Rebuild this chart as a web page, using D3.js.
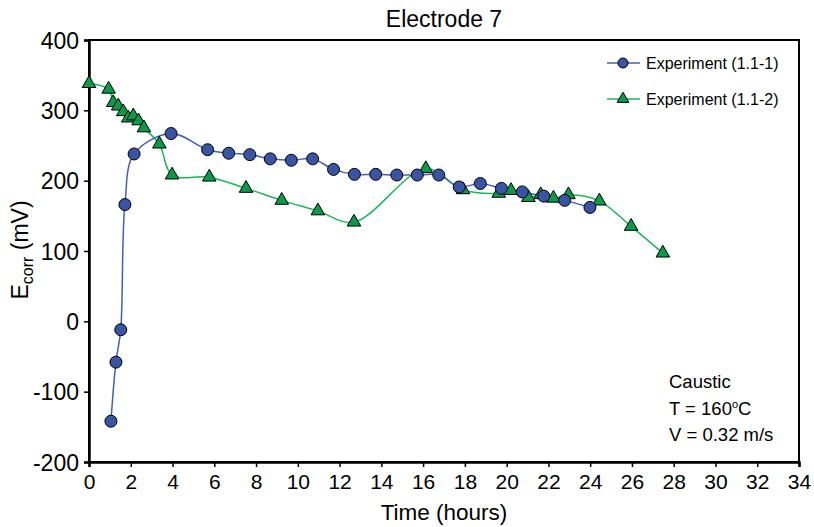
<!DOCTYPE html>
<html>
<head>
<meta charset="utf-8">
<script src="https://cdn.jsdelivr.net/npm/d3@7"></script>
<style>
  body { margin: 0; background: #fff; }
  text { font-family: "Liberation Sans", Arial, sans-serif; fill: #000; }
</style>
</head>
<body>
<svg id="viz"></svg>
<script>
var width = 814;
var height = 527;

// data
var exp1Time = [1.05, 1.29, 1.52, 1.72, 2.16, 3.93, 5.68, 6.69, 7.70, 8.68, 9.69, 10.71, 11.71, 12.71, 13.73, 14.74, 15.72, 16.75, 17.73, 18.74, 19.75, 20.75, 21.78, 22.78, 23.99];
var exp1Ecorr = [-142, -58, -12, 166, 238, 267, 244, 239, 237, 231, 229, 231, 216, 209, 209, 208, 208, 208, 191, 196, 189, 184, 178, 172, 162];

var exp2Time = [0, 0.94, 1.16, 1.40, 1.64, 1.88, 2.12, 2.37, 2.63, 3.37, 3.98, 5.76, 7.52, 9.23, 10.96, 12.69, 16.13, 17.91, 19.62, 20.21, 21.04, 21.63, 22.24, 22.96, 24.44, 25.96, 27.48];
var exp2Ecorr = [338, 330, 311, 306, 298, 289, 292, 285, 275, 252, 208, 205, 189, 172, 157, 141, 217, 187, 182, 186, 176, 180, 175, 180, 171, 135, 97];

var xTicks = d3.range(0, 35, 2);
var yTicks = [-200, -100, 0, 100, 200, 300, 400];
var seriesNames = ["Experiment (1.1-1)", "Experiment (1.1-2)"];

var margin = {left: 89, top: 40, right: 15, bottom: 65};
var plotW = width - margin.left - margin.right;
var plotH = height - margin.top - margin.bottom;

var svg = d3.select("#viz")
    .attr("width", width)
    .attr("height", height);

var x = d3.scaleLinear().domain([0, 34]).range([0, plotW]);
var y = d3.scaleLinear().domain([-200, 400]).range([plotH, 0]);

var g = svg.append("g")
    .attr("transform", "translate(" + margin.left + "," + margin.top + ")");

// frame
g.append("rect")
    .attr("x", 0).attr("y", 0)
    .attr("width", plotW).attr("height", plotH)
    .attr("fill", "none")
    .attr("stroke", "#000")
    .attr("stroke-width", 2);

// axes (plain hyphen for negatives, like the original)
var plain = function(d) { return String(d); };
var xAxis = g.append("g")
    .attr("transform", "translate(0," + plotH + ")")
    .call(d3.axisBottom(x).tickValues(xTicks).tickFormat(plain).tickSize(5).tickPadding(6));
var yAxis = g.append("g")
    .call(d3.axisLeft(y).tickValues(yTicks).tickFormat(plain).tickSize(5).tickPadding(5));

[xAxis, yAxis].forEach(function(a) {
    a.select(".domain").attr("stroke-width", 2.5);
    a.selectAll(".tick line").attr("stroke-width", 1.5);
});
xAxis.selectAll("text").style("font-size", "21px").style("font-family", "Liberation Sans, Arial").attr("dy", "0.75em");
yAxis.selectAll("text").style("font-size", "23px").style("font-family", "Liberation Sans, Arial").attr("dy", "0.36em");

// lines
var exp1 = exp1Time.map(function(t, i) { return [t, exp1Ecorr[i]]; });
var exp2 = exp2Time.map(function(t, i) { return [t, exp2Ecorr[i]]; });

var line = d3.line()
    .x(function(d) { return x(d[0]); })
    .y(function(d) { return y(d[1]); })
    .curve(d3.curveCatmullRom.alpha(0.5));

g.append("path").datum(exp2)
    .attr("d", line)
    .attr("fill", "none")
    .attr("stroke", "#1eb55a")
    .attr("stroke-width", 1.5);

g.append("path").datum(exp1)
    .attr("d", line)
    .attr("fill", "none")
    .attr("stroke", "#4560b0")
    .attr("stroke-width", 1.5);

var tri = d3.symbol().type(d3.symbolTriangle).size(80);

g.selectAll(".tri").data(exp2).enter().append("path")
    .attr("class", "tri")
    .attr("d", tri)
    .attr("transform", function(d) { return "translate(" + x(d[0]) + "," + y(d[1]) + ")"; })
    .attr("fill", "#0c9a4a")
    .attr("stroke", "#000")
    .attr("stroke-width", 1);

g.selectAll(".dot").data(exp1).enter().append("circle")
    .attr("class", "dot")
    .attr("cx", function(d) { return x(d[0]); })
    .attr("cy", function(d) { return y(d[1]); })
    .attr("r", 6)
    .attr("fill", "#3a54a4")
    .attr("stroke", "#000")
    .attr("stroke-width", 1);

// legend
var legend = svg.append("g");
var legY = [63, 99];
var legColors = ["#4560b0", "#1eb55a"];
seriesNames.forEach(function(name, i) {
    legend.append("line")
        .attr("x1", 607).attr("x2", 640)
        .attr("y1", legY[i]).attr("y2", legY[i])
        .attr("stroke", legColors[i]).attr("stroke-width", 1.5);
    if (i === 0) {
        legend.append("circle").attr("cx", 623).attr("cy", legY[i]).attr("r", 5)
            .attr("fill", "#3a54a4").attr("stroke", "#000");
    } else {
        legend.append("path").attr("d", d3.symbol().type(d3.symbolTriangle).size(60))
            .attr("transform", "translate(623," + legY[i] + ")")
            .attr("fill", "#0c9a4a").attr("stroke", "#000");
    }
    legend.append("text")
        .attr("x", 646).attr("y", legY[i])
        .attr("dy", "0.35em")
        .style("font-size", "16px")
        .text(name);
});

// title and axis titles
svg.append("text")
    .attr("x", margin.left + plotW / 2).attr("y", 27)
    .attr("text-anchor", "middle")
    .style("font-size", "23px")
    .text("Electrode 7");

svg.append("text")
    .attr("x", margin.left + plotW / 2).attr("y", 520)
    .attr("text-anchor", "middle")
    .style("font-size", "22.5px")
    .text("Time (hours)");

var yt = svg.append("text")
    .attr("transform", "translate(28,250) rotate(-90)")
    .attr("text-anchor", "middle")
    .style("font-size", "23px");
yt.append("tspan").text("E");
yt.append("tspan").attr("dy", 5).style("font-size", "16px").text("corr");
yt.append("tspan").attr("dy", -5).text(" (mV)");

// conditions note
var note = svg.append("g").style("font-size", "18.5px");
note.append("text").attr("x", 669).attr("y", 388).text("Caustic");
var tLine = note.append("text").attr("x", 669).attr("y", 415);
tLine.append("tspan").text("T = 160");
tLine.append("tspan").attr("dy", -7).style("font-size", "11px").text("o");
tLine.append("tspan").attr("dy", 7).text("C");
note.append("text").attr("x", 669).attr("y", 441).text("V = 0.32 m/s");
</script>
</body>
</html>
